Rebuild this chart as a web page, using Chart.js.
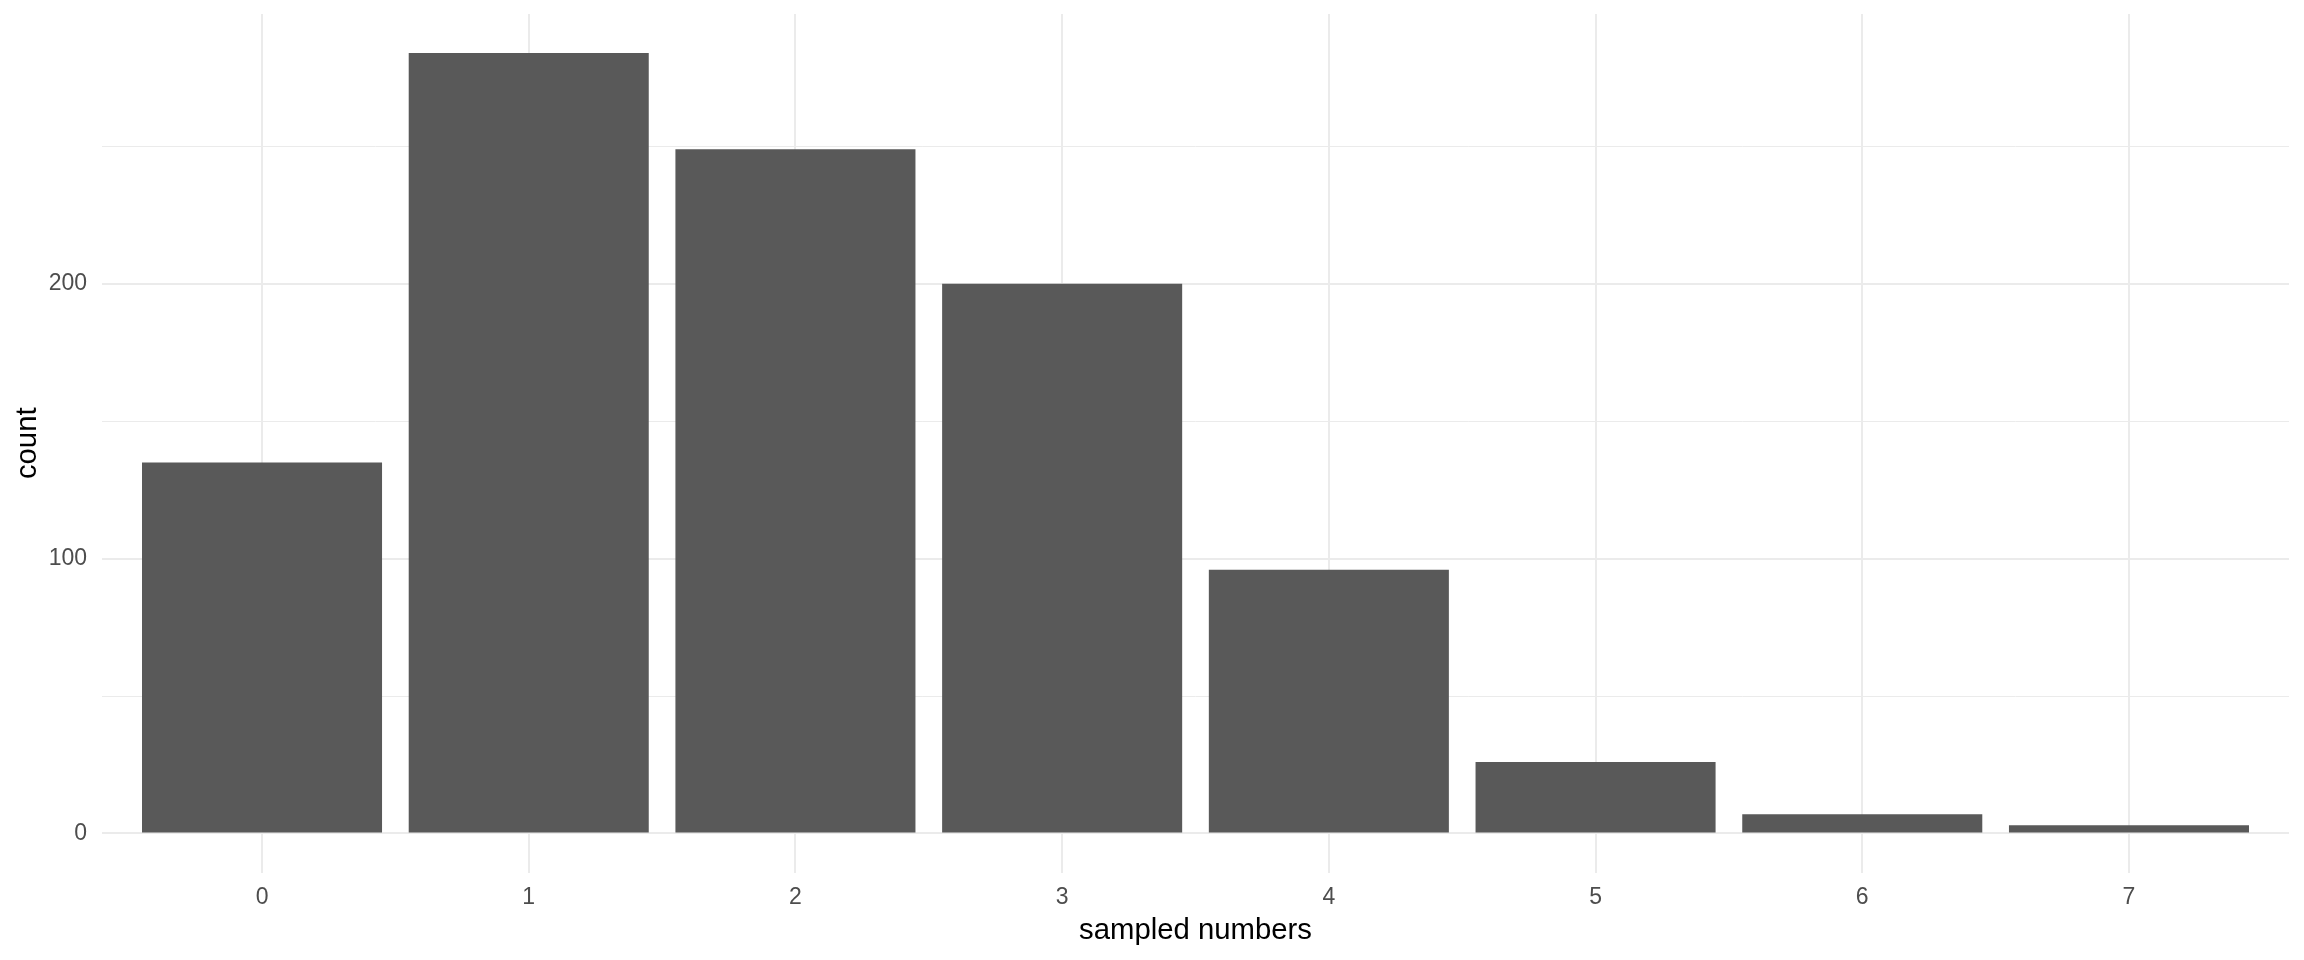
<!DOCTYPE html>
<html>
<head>
<meta charset="utf-8">
<title>sampled numbers</title>
<script src="https://cdn.jsdelivr.net/npm/chart.js@4.4.1/dist/chart.umd.min.js"></script>
<style>
  html, body { margin: 0; padding: 0; background: #fff; }
  #wrap { width: 2304px; height: 960px; position: relative; }
</style>
</head>
<body>
<div id="wrap"><canvas id="counts"></canvas></div>
<script>
// values
const categories = [0, 1, 2, 3, 4, 5, 6, 7]
const counts = [135, 284, 249, 200, 96, 26, 7, 3]
const yTickLabels = [0, 100, 200]
const yGridSteps = [0, 50, 100, 150, 200, 250]

const FONT = "'Liberation Sans', Arial, sans-serif"
const GRID = '#EBEBEB'

// ggplot style expansion: 0.6 units on a discrete x, 5% on y
const maxCount = Math.max(...counts)
const yMin = -0.05 * maxCount
const yMax = maxCount * 1.05

const points = categories.map((c, i) => ({ x: c, y: counts[i] }))

new Chart(document.getElementById('counts'), {
    type: 'bar',
    data: {
        datasets: [
            {
                label: 'count',
                data: points,
                backgroundColor: '#595959',
                borderWidth: 0,
                barPercentage: 0.9,
                categoryPercentage: 1.0,
            }
        ]
    },
    options: {
        responsive: true,
        maintainAspectRatio: false,
        animation: false,
        layout: { padding: { top: 14, right: 15, left: 0, bottom: 0 } },
        plugins: {
            legend: { display: false },
            tooltip: { enabled: false },
        },
        scales: {
            x: {
                type: 'linear',
                offset: false,
                min: categories[0] - 0.6,
                max: categories[categories.length - 1] + 0.6,
                afterBuildTicks: (scale) => {
                    scale.ticks = categories.map(v => ({ value: v }))
                },
                afterFit: (scale) => {
                    scale.height = 87.5
                    scale.paddingLeft = 0
                    scale.paddingRight = 0
                },
                border: { display: false },
                grid: {
                    color: GRID,
                    lineWidth: 2,
                    drawTicks: false,
                    offset: false,
                },
                ticks: {
                    padding: 11.5,
                    color: '#4D4D4D',
                    font: { family: FONT, size: 23 },
                    callback: (v) => String(v),
                    maxRotation: 0,
                    autoSkip: false,
                },
                title: {
                    display: true,
                    text: 'sampled numbers',
                    color: '#000000',
                    font: { family: FONT, size: 29.3 },
                    padding: { top: 0, bottom: 12 },
                },
            },
            y: {
                min: yMin,
                max: yMax,
                afterBuildTicks: (scale) => {
                    scale.ticks = yGridSteps.map(v => ({ value: v }))
                },
                afterFit: (scale) => {
                    scale.width = 102
                    // don't let the label heights push the plot area down
                    scale.paddingTop = 0
                    scale.paddingBottom = 0
                },
                border: { display: false },
                grid: {
                    color: GRID,
                    lineWidth: (ctx) => (ctx.tick && yTickLabels.includes(ctx.tick.value)) ? 2 : 1,
                    drawTicks: false,
                },
                ticks: {
                    padding: 15,
                    color: '#4D4D4D',
                    font: { family: FONT, size: 23 },
                    callback: (v) => yTickLabels.includes(v) ? String(v) : '',
                    autoSkip: false,
                },
                title: {
                    display: true,
                    text: 'count',
                    color: '#000000',
                    font: { family: FONT, size: 29.3 },
                    padding: { top: 10, bottom: 0 },
                },
            },
        },
    },
})
</script>
</body>
</html>
